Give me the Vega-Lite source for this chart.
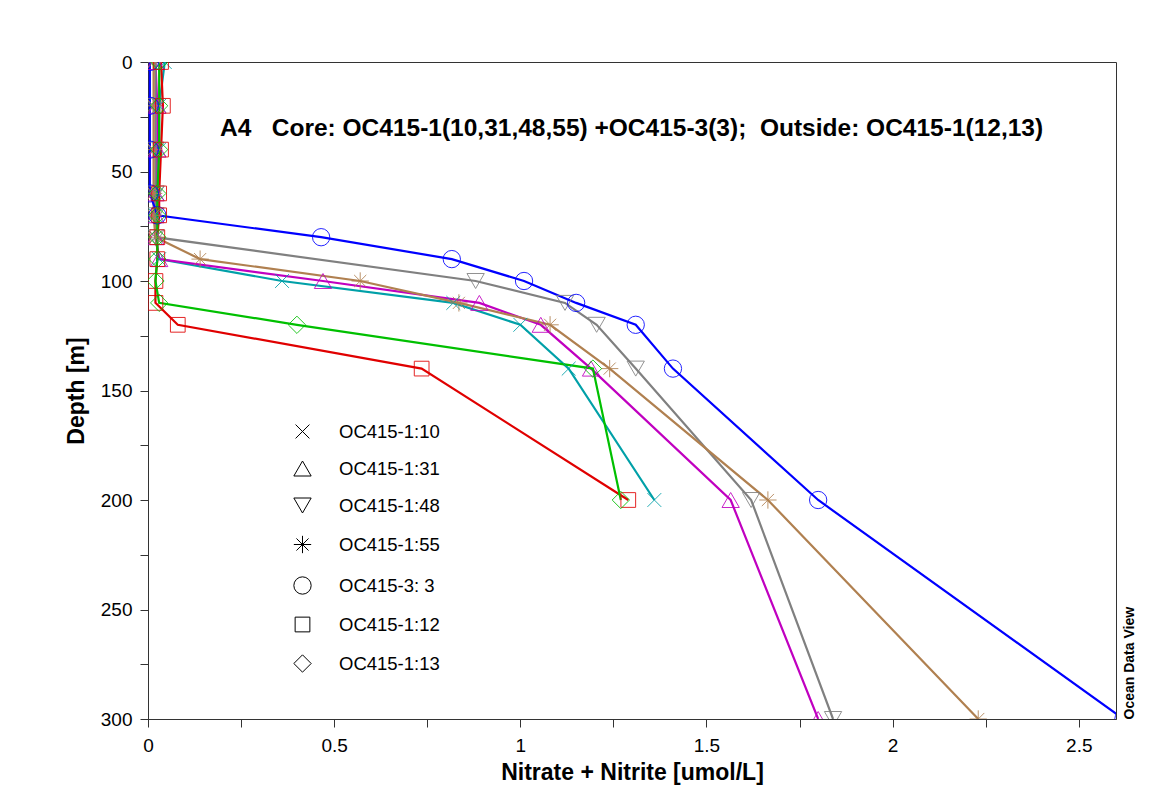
{
  "$schema": "https://vega.github.io/schema/vega-lite/v6.json",
  "width": 968,
  "height": 657,
  "autosize": {"type": "none"},
  "padding": {"left": 148, "top": 62, "right": 60, "bottom": 90},
  "background": "white",
  "config": {
    "font": "Liberation Sans",
    "view": {"stroke": "#333333", "strokeWidth": 1},
    "axis": {"grid": false, "domainColor": "#333333", "tickColor": "#333333", "labelColor": "black", "titleColor": "black", "labelFont": "Liberation Sans", "titleFont": "Liberation Sans"},
    "legend": {
      "orient": "none", "legendX": 145, "legendY": 360,
      "title": null, "padding": 0,
      "symbolStrokeColor": "black", "symbolFillColor": "transparent",
      "symbolStrokeWidth": 1, "symbolSize": 300, "symbolOpacity": 1,
      "labelFontSize": 18.5, "labelColor": "black", "labelOffset": 27,
      "rowPadding": 18, "labelFont": "Liberation Sans"
    }
  },
  "title": {
    "text": "A4\u00a0\u00a0\u00a0Core: OC415-1(10,31,48,55) +OC415-3(3);\u00a0\u00a0Outside: OC415-1(12,13)",
    "anchor": "start",
    "frame": "group",
    "dx": 72,
    "offset": -74,
    "dy": 14,
    "fontSize": 24.5,
    "fontWeight": "bold",
    "color": "black",
    "font": "Liberation Sans"
  },
  "data": {
    "values": [
      {"s": "OC415-1:10", "c": "10", "d": 0, "n": 0.045}, {"s": "OC415-1:10", "c": "10", "d": 20, "n": 0.03}, {"s": "OC415-1:10", "c": "10", "d": 40, "n": 0.03}, {"s": "OC415-1:10", "c": "10", "d": 60, "n": 0.025}, {"s": "OC415-1:10", "c": "10", "d": 70, "n": 0.02}, {"s": "OC415-1:10", "c": "10", "d": 80, "n": 0.02}, {"s": "OC415-1:10", "c": "10", "d": 90, "n": 0.03}, {"s": "OC415-1:10", "c": "10", "d": 100, "n": 0.36}, {"s": "OC415-1:10", "c": "10", "d": 110, "n": 0.82}, {"s": "OC415-1:10", "c": "10", "d": 120, "n": 1.0}, {"s": "OC415-1:10", "c": "10", "d": 140, "n": 1.13}, {"s": "OC415-1:10", "c": "10", "d": 200, "n": 1.36},
      {"s": "OC415-1:31", "c": "31", "d": 0, "n": 0.02}, {"s": "OC415-1:31", "c": "31", "d": 20, "n": 0.025}, {"s": "OC415-1:31", "c": "31", "d": 40, "n": 0.025}, {"s": "OC415-1:31", "c": "31", "d": 60, "n": 0.02}, {"s": "OC415-1:31", "c": "31", "d": 70, "n": 0.02}, {"s": "OC415-1:31", "c": "31", "d": 80, "n": 0.02}, {"s": "OC415-1:31", "c": "31", "d": 90, "n": 0.03}, {"s": "OC415-1:31", "c": "31", "d": 100, "n": 0.47}, {"s": "OC415-1:31", "c": "31", "d": 110, "n": 0.89}, {"s": "OC415-1:31", "c": "31", "d": 120, "n": 1.055}, {"s": "OC415-1:31", "c": "31", "d": 140, "n": 1.19}, {"s": "OC415-1:31", "c": "31", "d": 200, "n": 1.565}, {"s": "OC415-1:31", "c": "31", "d": 300, "n": 1.8},
      {"s": "OC415-1:48", "c": "48", "d": 0, "n": 0.02}, {"s": "OC415-1:48", "c": "48", "d": 20, "n": 0.02}, {"s": "OC415-1:48", "c": "48", "d": 40, "n": 0.02}, {"s": "OC415-1:48", "c": "48", "d": 60, "n": 0.02}, {"s": "OC415-1:48", "c": "48", "d": 70, "n": 0.02}, {"s": "OC415-1:48", "c": "48", "d": 80, "n": 0.02}, {"s": "OC415-1:48", "c": "48", "d": 100, "n": 0.88}, {"s": "OC415-1:48", "c": "48", "d": 110, "n": 1.12}, {"s": "OC415-1:48", "c": "48", "d": 120, "n": 1.205}, {"s": "OC415-1:48", "c": "48", "d": 140, "n": 1.31}, {"s": "OC415-1:48", "c": "48", "d": 200, "n": 1.62}, {"s": "OC415-1:48", "c": "48", "d": 300, "n": 1.84},
      {"s": "OC415-1:55", "c": "55", "d": 0, "n": 0.015}, {"s": "OC415-1:55", "c": "55", "d": 20, "n": 0.015}, {"s": "OC415-1:55", "c": "55", "d": 40, "n": 0.015}, {"s": "OC415-1:55", "c": "55", "d": 60, "n": 0.015}, {"s": "OC415-1:55", "c": "55", "d": 70, "n": 0.015}, {"s": "OC415-1:55", "c": "55", "d": 80, "n": 0.02}, {"s": "OC415-1:55", "c": "55", "d": 90, "n": 0.14}, {"s": "OC415-1:55", "c": "55", "d": 100, "n": 0.57}, {"s": "OC415-1:55", "c": "55", "d": 110, "n": 0.835}, {"s": "OC415-1:55", "c": "55", "d": 120, "n": 1.08}, {"s": "OC415-1:55", "c": "55", "d": 140, "n": 1.24}, {"s": "OC415-1:55", "c": "55", "d": 200, "n": 1.665}, {"s": "OC415-1:55", "c": "55", "d": 300, "n": 2.23},
      {"s": "OC415-3: 3", "c": "3", "d": 0, "n": 0.005}, {"s": "OC415-3: 3", "c": "3", "d": 20, "n": 0.005}, {"s": "OC415-3: 3", "c": "3", "d": 40, "n": 0.005}, {"s": "OC415-3: 3", "c": "3", "d": 60, "n": 0.005}, {"s": "OC415-3: 3", "c": "3", "d": 70, "n": 0.025}, {"s": "OC415-3: 3", "c": "3", "d": 80, "n": 0.465}, {"s": "OC415-3: 3", "c": "3", "d": 90, "n": 0.816}, {"s": "OC415-3: 3", "c": "3", "d": 100, "n": 1.01}, {"s": "OC415-3: 3", "c": "3", "d": 110, "n": 1.15}, {"s": "OC415-3: 3", "c": "3", "d": 120, "n": 1.31}, {"s": "OC415-3: 3", "c": "3", "d": 140, "n": 1.41}, {"s": "OC415-3: 3", "c": "3", "d": 200, "n": 1.8}, {"s": "OC415-3: 3", "c": "3", "d": 300, "n": 2.62},
      {"s": "OC415-1:12", "c": "12", "d": 0, "n": 0.035}, {"s": "OC415-1:12", "c": "12", "d": 20, "n": 0.04}, {"s": "OC415-1:12", "c": "12", "d": 40, "n": 0.035}, {"s": "OC415-1:12", "c": "12", "d": 60, "n": 0.03}, {"s": "OC415-1:12", "c": "12", "d": 70, "n": 0.03}, {"s": "OC415-1:12", "c": "12", "d": 80, "n": 0.025}, {"s": "OC415-1:12", "c": "12", "d": 90, "n": 0.025}, {"s": "OC415-1:12", "c": "12", "d": 100, "n": 0.02}, {"s": "OC415-1:12", "c": "12", "d": 110, "n": 0.02}, {"s": "OC415-1:12", "c": "12", "d": 120, "n": 0.08}, {"s": "OC415-1:12", "c": "12", "d": 140, "n": 0.735}, {"s": "OC415-1:12", "c": "12", "d": 200, "n": 1.29},
      {"s": "OC415-1:13", "c": "13", "d": 0, "n": 0.03}, {"s": "OC415-1:13", "c": "13", "d": 20, "n": 0.03}, {"s": "OC415-1:13", "c": "13", "d": 40, "n": 0.03}, {"s": "OC415-1:13", "c": "13", "d": 60, "n": 0.025}, {"s": "OC415-1:13", "c": "13", "d": 70, "n": 0.025}, {"s": "OC415-1:13", "c": "13", "d": 80, "n": 0.025}, {"s": "OC415-1:13", "c": "13", "d": 90, "n": 0.025}, {"s": "OC415-1:13", "c": "13", "d": 100, "n": 0.02}, {"s": "OC415-1:13", "c": "13", "d": 110, "n": 0.03}, {"s": "OC415-1:13", "c": "13", "d": 120, "n": 0.4}, {"s": "OC415-1:13", "c": "13", "d": 140, "n": 1.195}, {"s": "OC415-1:13", "c": "13", "d": 200, "n": 1.27}
    ]
  },
  "encoding": {
    "x": {
      "field": "n", "type": "quantitative",
      "scale": {"domain": [0, 2.6], "nice": false, "zero": false},
      "axis": {
        "title": "Nitrate + Nitrite [umol/L]",
        "values": [0, 0.25, 0.5, 0.75, 1, 1.25, 1.5, 1.75, 2, 2.25, 2.5],
        "format": "~g",
        "labelExpr": "(round(datum.value*100) % 50 == 0) ? datum.label : ''",
        "labelFontSize": 19, "titleFontSize": 23, "titleFontWeight": "bold",
        "tickSize": 8, "labelPadding": 9, "titlePadding": 6, "labelFlush": false
      }
    },
    "color": {
      "field": "c", "type": "nominal",
      "scale": {
        "domain": ["10", "31", "48", "55", "3", "12", "13"],
        "range": ["#00a0a8", "#c000c0", "#808080", "#b08050", "#0000ff", "#e00000", "#00c000"]
      },
      "legend": null
    }
  },
  "layer": [
    {
      "mark": {"type": "line", "strokeWidth": 2.2, "clip": true},
      "encoding": {
        "y": {
          "field": "d", "type": "quantitative",
          "scale": {"domain": [0, 300], "reverse": true, "nice": false, "zero": false},
          "axis": {
            "title": "Depth [m]", "orient": "left",
            "values": [0, 25, 50, 75, 100, 125, 150, 175, 200, 225, 250, 275, 300],
            "labelExpr": "(datum.value % 50 == 0) ? datum.label : ''",
            "labelFontSize": 19, "titleFontSize": 23, "titleFontWeight": "bold",
            "tickSize": 8, "labelPadding": 8, "titlePadding": 12, "labelFlush": false
          }
        },
        "order": {"field": "d", "type": "quantitative"}
      }
    },
    {
      "mark": {"type": "point", "filled": false, "strokeWidth": 1, "size": 300, "clip": true, "opacity": 0.85},
      "encoding": {
        "y": {
          "field": "d", "type": "quantitative",
          "scale": {"domain": [0, 300], "reverse": true, "nice": false, "zero": false},
          "axis": {
            "title": "Ocean Data View", "orient": "right",
            "domain": false, "ticks": false, "labels": false,
            "titleFontSize": 14, "titleFontWeight": "bold", "titleAngle": 270,
            "titleAnchor": "end", "titleAlign": "left", "titlePadding": 20
          }
        },
        "shape": {
          "field": "s", "type": "nominal",
          "scale": {
            "domain": ["OC415-1:10", "OC415-1:31", "OC415-1:48", "OC415-1:55", "OC415-3: 3", "OC415-1:12", "OC415-1:13"],
            "range": [
              "M-0.8,-0.8L0.8,0.8M-0.8,0.8L0.8,-0.8",
              "triangle-up",
              "triangle-down",
              "M0,-1L0,1M-1,0L1,0M-0.7,-0.7L0.7,0.7M-0.7,0.7L0.7,-0.7",
              "circle",
              "M-0.85,-0.85L0.85,-0.85L0.85,0.85L-0.85,0.85Z",
              "diamond"
            ]
          },
          "legend": {}
        }
      }
    }
  ],
  "resolve": {"axis": {"y": "independent"}}
}
